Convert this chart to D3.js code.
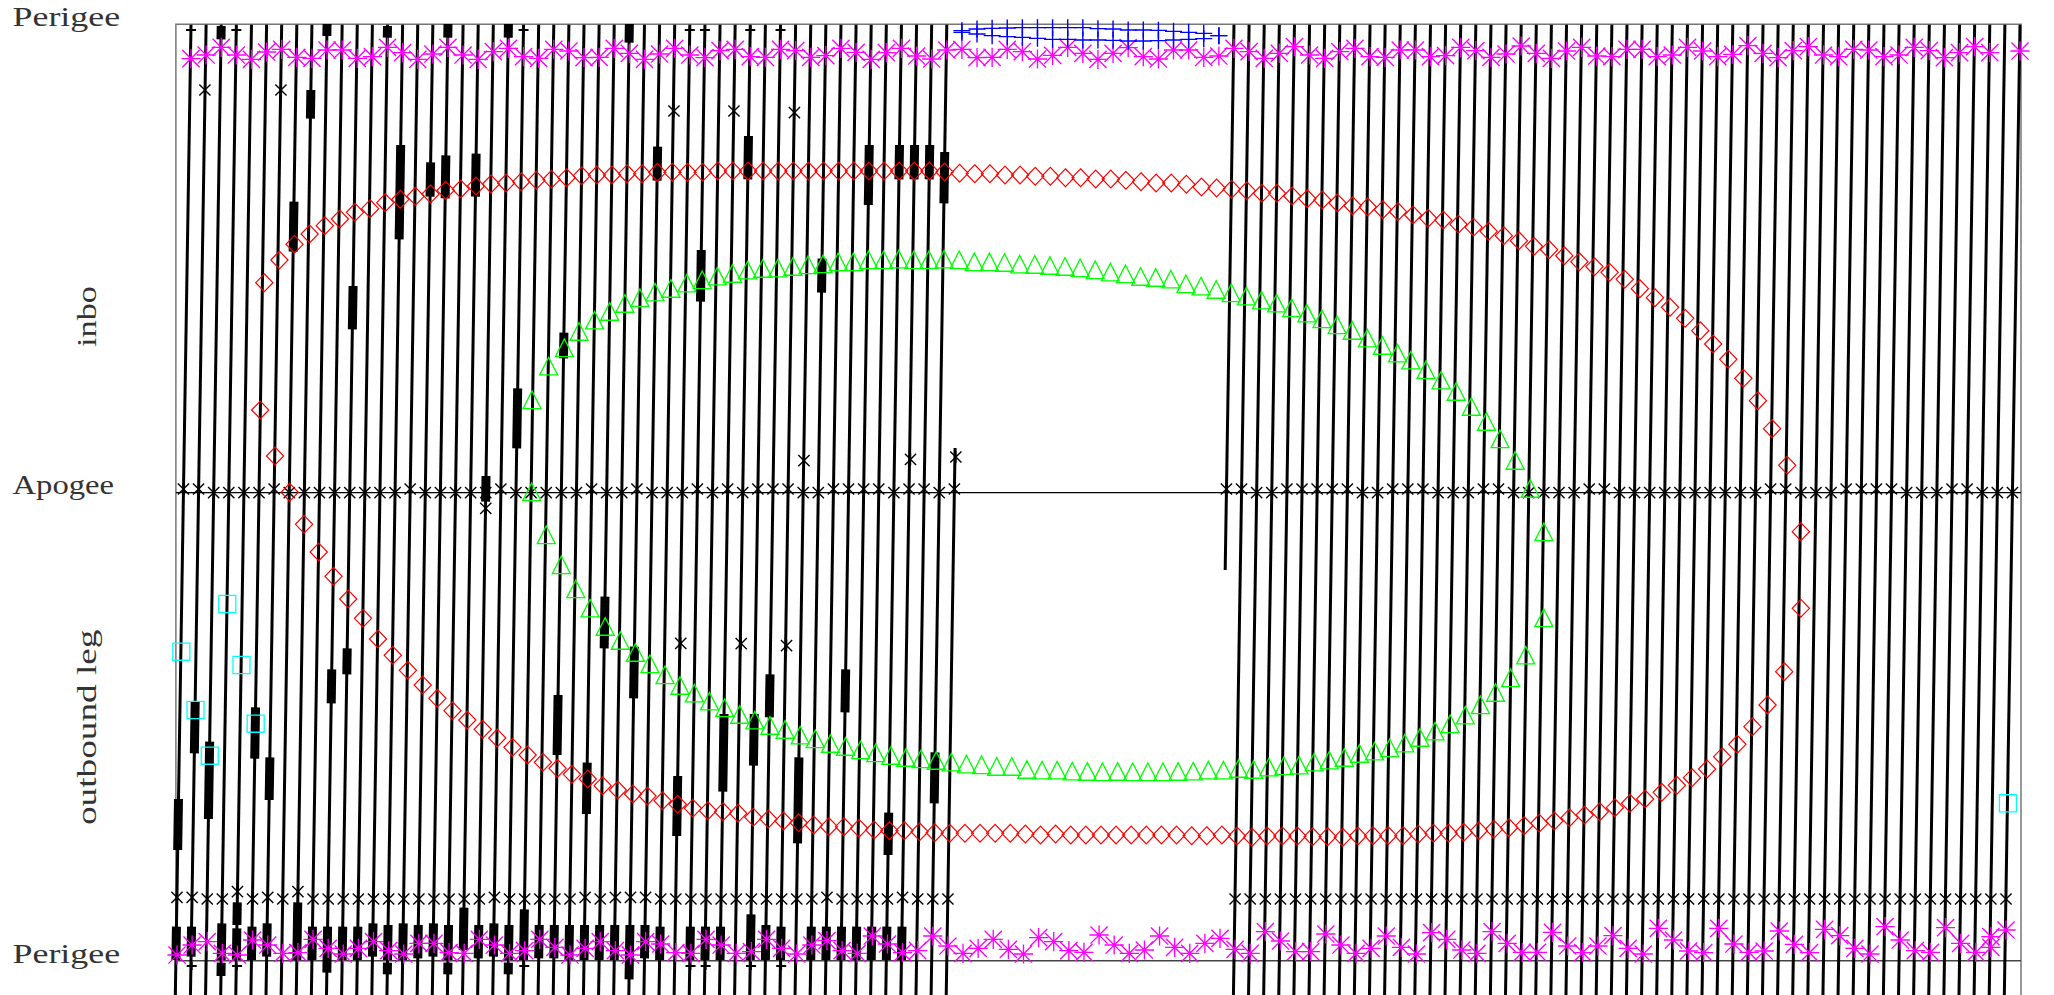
<!DOCTYPE html>
<html><head><meta charset="utf-8">
<script src="https://cdn.jsdelivr.net/npm/d3@7"></script>
<style>html,body{margin:0;padding:0;background:#fff;overflow:hidden}svg{display:block}</style>
</head><body><svg id="c" width="2054" height="995"></svg>
<script>
// ---- Data (orbit number; phase in orbit units, 74 = perigee top, 1478 = apogee, 2882 = perigee bottom)
const orbitsFull = d3.range(0,51).concat(d3.range(70,122));
const partialOrbits = [[51,1344,2985],[69,74,1710]];
const phaseLabels = [["Perigee",26,1.33],["Apogee",494,1.21],["Perigee",962.7,1.33]];
const legLabels = [["inbo",347,1.27],["outbound leg",825,1.38]];

const bars = [[2,78,118],[9,72,108],[13,78,113],[17,72,113],[21,72,113],[29,72,128],
[8,270,356],[7,605,755],[11,858,988],[14,435,718],[16,487,590],[17,466,595],[19,461,590],[31,440,542],[34,750,905],[37,408,538],[42,776,878],[45,435,615],[47,435,538],[48,435,538],[49,435,538],[50,456,610],
[25,998,1075],[22,1165,1345],[20,1428,1505],[28,1790,1945],[30,1940,2095],[11,1945,2023],[10,2008,2110],
[1,2105,2260],[0,2397,2550],[2,2225,2457],[5,2122,2276],[6,2272,2400],[25,2085,2265],[27,2288,2442],[33,2328,2508],[36,2142,2375],[38,2142,2297],[39,2023,2152],[41,2272,2530],[44,2008,2137],[47,2438,2565],[50,2257,2410],
[0,2780,2880],[1,2780,2870],[3,2770,2880],[3,2888,2928],[4,2707,2775],[4,2785,2880],[5,2780,2880],[6,2770,2870],[8,2707,2880],[9,2780,2880],[10,2780,2918],[11,2780,2880],[12,2780,2880],[13,2770,2870],[14,2775,2880],[14,2888,2923],[15,2770,2880],[16,2775,2875],[17,2770,2870],[18,2775,2880],[18,2888,2923],[19,2723,2850],[20,2775,2875],[21,2770,2870],[22,2775,2880],[22,2888,2923],[23,2728,2880],[24,2775,2875],[25,2775,2875],[26,2775,2880],[27,2775,2880],[28,2775,2880],[29,2775,2880],[30,2775,2938],[31,2775,2875],[32,2780,2880],[34,2780,2880],[35,2780,2880],[36,2780,2880],[38,2743,2880],[39,2775,2880],[40,2780,2880],[42,2780,2880],[43,2780,2880],[44,2780,2880],[45,2780,2880],[46,2780,2880],[47,2780,2880],[48,2780,2880]];

const tickTop = [0,3,22,33,34,37,39];
const tickBottom = [1,4,23,34,35,38,40];

const magentaTop = [176,165,142,165,178,156,148,172,175,150,150,175,170,142,158,178,162,142,165,178,155,145,170,175,148,153,173,172,145,160,178,162,145,165,
173,152,148,170,172,148,152,172,167,145,157,178,158,145,168,177,150,148,173,172,148,155,177,166,142,160,178,160,143,170,177,150,150,172,168,145,155,175,160,140,165,175,155,145,170,172,
150,150,170,167,142,152,172,162,138,160,175,153,142,168,170,148,148,170,165,142,153,170,163,137,160,173,152,140,165,170,148,150,170,165,142,152,173,158,140,158,null,153];
const magentaBottom = [2865,2835,2825,2860,2865,2820,2835,2860,2858,2818,2845,2862,2845,2825,2852,2862,2830,2830,2858,2860,2818,2835,2860,2852,2818,2842,2865,2845,2825,2852,2865,2825,2832,2858,2860,
2818,2835,2860,2855,2818,2845,2862,2835,2822,2852,2860,2808,2832,2858,2852,2808,2838,2860,2845,2818,2848,2862,2813,2825,2852,2857,2805,2835,2860,2850,2808,2842,2860,2830,2815,2848,2860,2795,2823,2855,2855,2802,2835,2860,2845,2808,
2842,2862,2798,2818,2850,2860,2795,2830,2857,2857,2797,2838,2858,2838,2807,2845,2862,2785,2820,2853,2858,2785,2832,2857,2853,2793,2833,2858,2788,2807,2845,2862,2780,2820,2852,2857,2783,2830,2857,2842,2790];
const magentaBottomExtra = [[120,2810]];
const blackStarsBottomHigh = {0:2692,1:2692,4:2675,6:2692,8:2675,21:2692,27:2692,29:2692,30:2692,31:2692,43:2692,48:2692};
const bottomStarOrbits = d3.range(0,52).concat(d3.range(70,122));
const apogeeStarOrbits = d3.range(0,52).concat(d3.range(69,122));
const apogeeHigh = [0,1,6,15,21,27,30,34,36,38,39,40,43,44,45,46,48,49,51,69,70,73,74,75,76,77,80,81,82,86,87,93,94,105,106,110,111,112,113,117,118];
const looseStars = [[0.92,270],[5.95,270],[31.95,333],[35.92,333],[39.92,338],[40.55,1382],[47.6,1378],[50.6,1371],[19.5,1525],[32.4,1930],[36.4,1931],[39.4,1937]];

const redInboundTime = d3.range(5,101).map(i=>i-0.15).concat([100.7,101.7,102.7,103.66,104.6,105.6,106.5]);
const redInbound = [848,780,733,702,677,657,637,626,608,598,589,582,571,567,558,552,549,545,541,538,533,527,525,525,521,521,517,517,517,517,
513,513,513,513,513,513,513,513,513,513,513,513,513,513,513,516,520,521,521,525,525,529,529,533,533,537,537,541,545,549,549,553,561,564,568,572,580,580,588,596,600,609,617,621,629,635,
645,655,660,673,682,694,707,722,739,749,767,785,800,817,838,866,893,922,955,992,1032,1078,1135,1202,1286,1396,1595];
const redOutboundTime = [4.58,5.56,6.53,7.48,8.45,9.43,10.4,11.38,12.37,13.35,14.35,15.33,16.3,17.3,18.28,19.3,20.26,21.27,22.27,23.28,24.25,25.2,26.25,27.23,28.24,29.24,30.2,31.2,32.2,33.2].concat(d3.range(34,97).map(i=>i+0.2)).concat([97.3,98.3,99.3,100.3,101.3,102.3,103.3,104.3,105.4,106.5]);
const redOutbound = [1230,1368,1477,1573,1656,1729,1797,1855,1917,1966,2011,2055,2095,2132,2160,2188,2214,2242,2265,2287,2305,2323,2337,2357,2370,2382,2388,2402,2413,2425,
2432,2435,2440,2452,2457,2463,2468,2475,2480,2480,2485,2490,2492,2492,2495,2498,2500,2500,2500,2500,2500,2502,2505,2502,2505,2505,2505,2505,2505,2505,2505,2505,2507,2507,2505,2508,2512,2508,2508,2508,2510,2510,2512,2508,2507,2507,
2507,2503,2500,2500,2497,2492,2488,2483,2477,2470,2463,2453,2445,2435,2423,2410,2397,2377,2356,2333,2307,2270,2233,2180,2115,2015,1825];

const greenInboundTime = [22.56,23.66,24.7,25.67,26.7,27.7,28.7,29.7,30.7,31.75,32.8].concat(d3.range(34,79).map(i=>i-0.18)).concat([78.82,79.82,80.7,81.7,82.7,83.7,84.7,85.7,86.6,87.6,88.6,89.5]);
const greenInbound = [1200,1099,1044,995,961,935,911,894,877,866,850,
840,829,821,811,806,805,800,795,792,786,786,780,780,778,780,780,778,780,786,786,788,793,794,797,800,804,810,817,822,830,833,838,852,859,869,879,889,901,910,924,940,957,975,992,1015,
1037,1060,1081,1110,1141,1175,1220,1265,1317,1382,1466];
const greenOutboundTime = [22.54,23.5,24.5,25.46,26.4,27.4,28.4,29.4,30.36,31.36,32.35,33.3].concat(d3.range(34,80).map(i=>i+0.3)).concat([80.3,81.3,82.3,83.3,84.3,85.3,86.3,87.3,88.3,89.5]);
const greenOutbound = [1476,1605,1695,1767,1825,1880,1922,1958,1992,2025,2057,2080,
2104,2124,2144,2161,2177,2189,2206,2217,2231,2240,2250,2259,2267,2273,2277,2282,2287,2293,2295,2300,2300,2309,2311,2311,2314,2315,2316,2315,2316,2316,2316,2315,2314,2311,2311,2306,2309,2302,2298,2296,2287,2281,2273,2261,2254,2244,
2230,2213,2194,2172,2146,2115,2078,2034,1966,1854];
const greenApogeeTail = [[89.5,1596]];

const cyanTime = [2.4,-0.64,3.34,0.3,1.24,4.28,120.2];
const cyanValue = [1812,1955,1995,2130,2267,2171,2410];

const blueOrbits = d3.range(51,69);
const blueUpper = [92,87,85,84,83,83,83,83,83,86,87,90,90,91,94,97,100,107];
const blueLower = [97,102,107,110,112,115,118,118,120,120,121,123,123,122,120,118,116,107];

// ---- Scales
const X = d3.scaleLinear().domain([0,121]).range([191,2020]);
const Y = d3.scaleLinear().domain([74,2882]).range([24.67,960.67]);
const lineT = (i,v)=> i-(v-74)/2808;          // orbit track: one orbit of drift per full phase
const svg = d3.select("#c");

// ---- Frame
const frame = svg.append("g").attr("fill","none");
frame.append("path").attr("d",`M${X(-1)},995V${Y(74)-0.5}H${X(121)+1}V995`).attr("stroke","#777").attr("stroke-width",1.5);
frame.append("line").attr("x1",X(-1)).attr("x2",X(121)+1).attr("y1",Y(1478)).attr("y2",Y(1478)).attr("stroke","#000").attr("stroke-width",1.4);
frame.append("line").attr("x1",X(-1)).attr("x2",X(121)+1).attr("y1",Y(2882)).attr("y2",Y(2882)).attr("stroke","#444").attr("stroke-width",1.5);

// ---- Orbit tracks
const tracks = orbitsFull.map(i=>[i,74,2985]).concat(partialOrbits);
svg.append("g").attr("stroke","#000").attr("stroke-width",3).selectAll("line").data(tracks).join("line")
  .attr("x1",d=>X(lineT(d[0],d[1]))).attr("y1",d=>Y(d[1]))
  .attr("x2",d=>X(lineT(d[0],d[2]))).attr("y2",d=>Y(d[2]));

// ---- Thick bars on the tracks
svg.append("g").attr("stroke","#000").attr("stroke-width",9).selectAll("line").data(bars).join("line")
  .attr("x1",d=>X(lineT(d[0],d[1]))).attr("y1",d=>Y(d[1]))
  .attr("x2",d=>X(lineT(d[0],d[2]))).attr("y2",d=>Y(d[2]));

// ---- Small horizontal ticks
const tick = "M-5,0H5M0,-4V4";
const tG = svg.append("g").attr("fill","none").attr("stroke","#000").attr("stroke-width",1.8);
tG.selectAll(".a").data(tickTop).join("path").attr("class","a").attr("d",tick).attr("transform",d=>`translate(${X(d)},${Y(90)})`);
tG.selectAll(".b").data(tickBottom).join("path").attr("class","b").attr("d",tick).attr("transform",d=>`translate(${X(lineT(d,2898))+0.8},${Y(2898)})`);

// ---- Marker shapes
const star6 = (()=>{const a=5.6,b=6.2;return `M0,${-b}V${b}M${-a},${-a}L${a},${a}M${-a},${a}L${a},${-a}`})();
const star8 = (()=>{const a=8.6,b=9.6;return `M0,${-b}V${b}M${-b},0H${b}M${-a},${-a}L${a},${a}M${-a},${a}L${a},${-a}`})();
const diamond = "M0,-8.9L8.6,0L0,8.9L-8.6,0Z";
const triangle = "M0,-9L9,8.6H-9Z";
const square = "M-8.5,-8.6H8.5V8.6H-8.5Z";
const plus = "M-8.5,0H8.5M0,-8.5V8.5";
function marks(data,shape,color,w,xf,yf){
  const g=svg.append("g").attr("fill","none").attr("stroke",color).attr("stroke-width",w);
  g.selectAll("path").data(data).join("path").attr("d",shape).attr("transform",d=>`translate(${xf(d)},${yf(d)})`);
}

// ---- Black asterisks
marks(apogeeStarOrbits,star6,"#000",1.4,k=>X(k-0.5),k=>Y(apogeeHigh.includes(k)?1467:1478));
marks(bottomStarOrbits,star6,"#000",1.4,j=>X(j-0.926),j=>Y(blackStarsBottomHigh[j]||2697));
marks(looseStars,star6,"#000",1.4,d=>X(d[0]),d=>Y(d[1]));

// ---- Magenta asterisks
const topPts = magentaTop.map((v,i)=>[i,v]).filter(d=>d[1]!==null);
marks(topPts,star8,"#ff00ff",1.35,d=>X(d[0]),d=>Y(d[1]));
const botPts = magentaBottom.map((v,i)=>[i,v]).concat(magentaBottomExtra);
marks(botPts,star8,"#ff00ff",1.35,d=>X(d[0]-0.926),d=>Y(d[1]));

// ---- Blue pluses
marks(blueOrbits.map((o,i)=>[o,blueUpper[i]]),plus,"#0000ff",1.4,d=>X(d[0]),d=>Y(d[1]));
marks(blueOrbits.map((o,i)=>[o,blueLower[i]]),plus,"#0000ff",1.4,d=>X(d[0]),d=>Y(d[1]));

// ---- Red diamonds
marks(redInbound.map((v,i)=>[redInboundTime[i],v]),diamond,"#ff0000",1.2,d=>X(d[0]),d=>Y(d[1]));
marks(redOutbound.map((v,i)=>[redOutboundTime[i],v]),diamond,"#ff0000",1.2,d=>X(d[0]),d=>Y(d[1]));

// ---- Green triangles
marks(greenInbound.map((v,i)=>[greenInboundTime[i],v]),triangle,"#00ff00",1.3,d=>X(d[0]),d=>Y(d[1]));
marks(greenOutbound.map((v,i)=>[greenOutboundTime[i],v]).concat(greenApogeeTail),triangle,"#00ff00",1.3,d=>X(d[0]),d=>Y(d[1]));

// ---- Cyan squares
marks(cyanValue.map((v,i)=>[cyanTime[i],v]),square,"#00ffff",1.3,d=>X(d[0]),d=>Y(d[1]));

// ---- Labels
const font = "'Liberation Serif',serif";
svg.append("g").selectAll("text").data(phaseLabels).join("text").text(d=>d[0])
  .attr("transform",d=>`translate(12.5,${d[1]}) scale(${d[2]},1)`).attr("fill","#333").style("font-family",font).style("font-size","27px");
svg.append("g").selectAll("text").data(legLabels).join("text").text(d=>d[0])
  .attr("transform",d=>`translate(96,${d[1]}) rotate(-90) scale(${d[2]},1)`).attr("fill","#333").style("font-family",font).style("font-size","27px");
</script></body></html>
